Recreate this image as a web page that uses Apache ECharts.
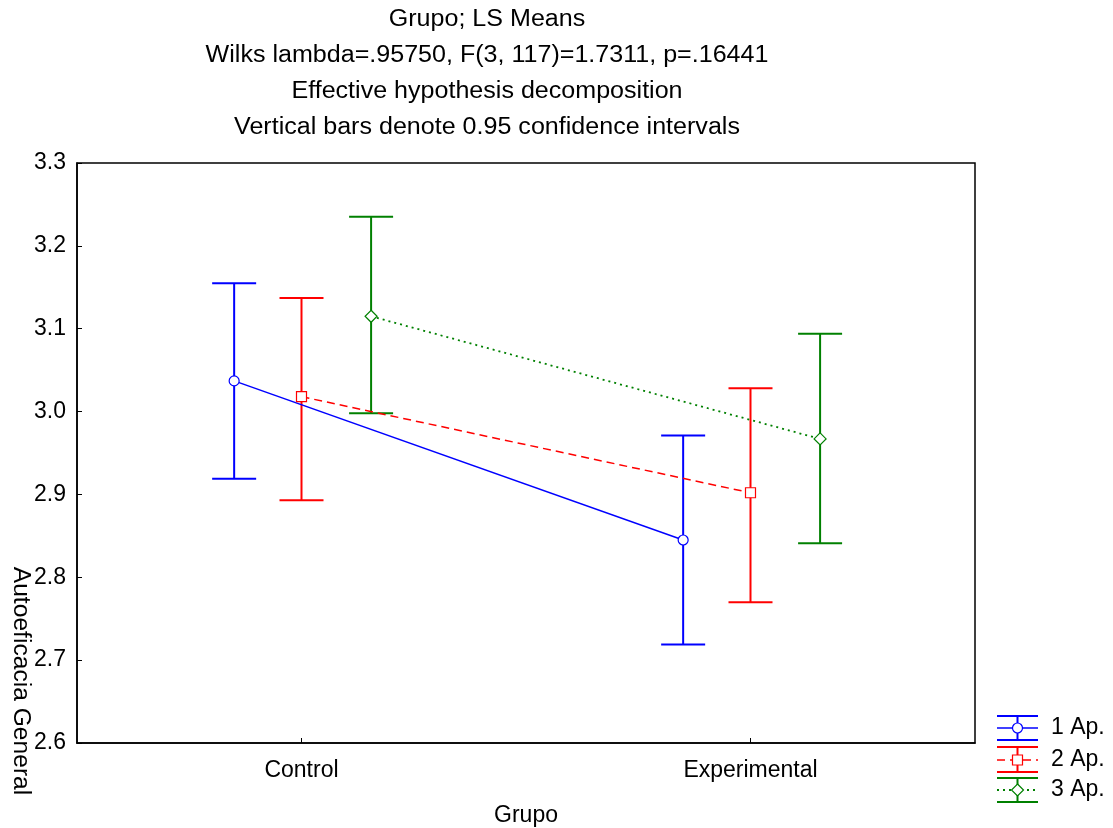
<!DOCTYPE html>
<html>
<head>
<meta charset="utf-8">
<script src="https://cdn.jsdelivr.net/npm/echarts@6/dist/echarts.min.js"></script>
<style>
html,body{margin:0;padding:0;background:#fff;}
#chart{width:1113px;height:828px;}
</style>
</head>
<body>
<div id="chart"></div>
<script>
// ---- data ----
const categories = ['Control', 'Experimental'];
const seriesNames = ['1 Ap.', '2 Ap.', '3 Ap.'];
const mean1 = [3.037, 2.845];
const low1  = [2.919, 2.719];
const high1 = [3.155, 2.971];
const mean2 = [3.018, 2.902];
const low2  = [2.893, 2.770];
const high2 = [3.137, 3.028];
const mean3 = [3.115, 2.967];
const low3  = [2.998, 2.841];
const high3 = [3.235, 3.094];
const titleLines = [
  'Grupo; LS Means',
  'Wilks lambda=.95750, F(3, 117)=1.7311, p=.16441',
  'Effective hypothesis decomposition',
  'Vertical bars denote 0.95 confidence intervals'
];
const yAxisName = 'Autoeficacia General';
const xAxisName = 'Grupo';

// ---- styling / layout ----
const FONT = '"Liberation Sans", Arial, sans-serif';
const FS = 23;
const colors = ['#0000ff', '#ff0000', '#008000'];
const offsets = [-0.15, 0, 0.155];
const symbols = ['circle', 'rect', 'diamond'];
const symbolSizes = [10, 10, 12];
const lineTypes = ['solid', [8, 5], [2, 4]];
const lineWidths = [1.5, 1.5, 1.8];
const means = [mean1, mean2, mean3];
const lows = [low1, low2, low3];
const highs = [high1, high2, high3];

const series = [];
seriesNames.forEach((name, s) => {
  const xs = categories.map((c, i) => i + 0.5 + offsets[s]);
  series.push({
    name: name + ' ci',
    type: 'custom',
    z: 2,
    data: xs.map((x, i) => [x, lows[s][i], highs[s][i]]),
    encode: { x: 0, y: [1, 2] },
    renderItem: function (params, api) {
      const x = api.value(0);
      const pLo = api.coord([x, api.value(1)]);
      const pHi = api.coord([x, api.value(2)]);
      const hw = 22;
      const st = { stroke: colors[s], lineWidth: 2, fill: null };
      return {
        type: 'group',
        children: [
          { type: 'line', shape: { x1: pLo[0], y1: pLo[1], x2: pHi[0], y2: pHi[1] }, style: st },
          { type: 'line', shape: { x1: pLo[0] - hw, y1: pLo[1], x2: pLo[0] + hw, y2: pLo[1] }, style: st },
          { type: 'line', shape: { x1: pHi[0] - hw, y1: pHi[1], x2: pHi[0] + hw, y2: pHi[1] }, style: st }
        ]
      };
    },
    silent: true
  });
  series.push({
    name: name,
    type: 'line',
    z: 5,
    data: xs.map((x, i) => [x, means[s][i]]),
    symbol: symbols[s],
    symbolSize: symbolSizes[s],
    showAllSymbol: true,
    lineStyle: { color: colors[s], width: lineWidths[s], type: lineTypes[s] },
    itemStyle: { color: '#ffffff', borderColor: colors[s], borderWidth: 1.2 },
    animation: false
  });
});

// legend graphics
const legendRows = [
  { top: 716, mid: 728, bot: 740 },
  { top: 747, mid: 760, bot: 772 },
  { top: 778, mid: 790, bot: 802 }
];
const graphics = [];
titleLines.forEach((t, i) => {
  graphics.push({
    type: 'text', x: 487, y: 20 + i * 36, scaleX: 1.09,
    style: { text: t, textAlign: 'center', textVerticalAlign: 'middle', font: FS + 'px ' + FONT, fill: '#000' }
  });
});
graphics.push({
  type: 'text', x: 20, y: 681, rotation: -Math.PI / 2, scaleX: 1.07,
  style: { text: yAxisName, textAlign: 'center', textVerticalAlign: 'middle', font: FS + 'px ' + FONT, fill: '#000' }
});
legendRows.forEach((r, s) => {
  const x0 = 997, x1 = 1038, cx = 1017.5;
  const st = { stroke: colors[s], lineWidth: 2, fill: null };
  graphics.push({ type: 'line', shape: { x1: x0, y1: r.top, x2: x1, y2: r.top }, style: st });
  graphics.push({ type: 'line', shape: { x1: x0, y1: r.bot, x2: x1, y2: r.bot }, style: st });
  graphics.push({ type: 'line', shape: { x1: cx, y1: r.top, x2: cx, y2: r.bot }, style: st });
  graphics.push({ type: 'line', shape: { x1: x0, y1: r.mid, x2: x1, y2: r.mid },
    style: { stroke: colors[s], lineWidth: lineWidths[s], lineDash: s === 0 ? null : lineTypes[s], fill: null } });
  const ms = { fill: '#fff', stroke: colors[s], lineWidth: 1.2 };
  if (s === 0) graphics.push({ type: 'circle', shape: { cx: cx, cy: r.mid, r: 5 }, style: ms, z: 10 });
  if (s === 1) graphics.push({ type: 'rect', shape: { x: cx - 5, y: r.mid - 5, width: 10, height: 10 }, style: ms, z: 10 });
  if (s === 2) graphics.push({ type: 'polygon', shape: { points: [[cx, r.mid - 6], [cx + 6, r.mid], [cx, r.mid + 6], [cx - 6, r.mid]] }, style: ms, z: 10 });
  graphics.push({ type: 'text', x: 1051, y: r.mid,
    style: { text: seriesNames[s], textAlign: 'left', textVerticalAlign: 'middle', font: FS + 'px ' + FONT, fill: '#000' } });
});

const chart = echarts.init(document.getElementById('chart'), null, { renderer: 'canvas' });
chart.setOption({
  animation: false,
  backgroundColor: '#ffffff',
  textStyle: { fontFamily: FONT },
  grid: { left: 77, right: 138, top: 163, bottom: 85, containLabel: false, outerBoundsMode: 'none',
          show: true, borderColor: '#000', borderWidth: 1.5, backgroundColor: 'transparent' },
  xAxis: {
    type: 'value', min: 0, max: 2, interval: 0.5,
    splitLine: { show: false },
    axisLine: { lineStyle: { color: '#000', width: 1.5 } },
    axisTick: { inside: true, length: 5, customValues: [0.5, 1.5], lineStyle: { color: '#000' } },
    axisLabel: { customValues: [0.5, 1.5], formatter: v => categories[Math.round(v - 0.5)] || '', fontSize: FS, color: '#000', margin: 16, fontFamily: FONT },
    name: xAxisName, nameLocation: 'middle', nameGap: 61,
    nameTextStyle: { fontSize: FS, color: '#000', fontFamily: FONT }
  },
  yAxis: {
    type: 'value', min: 2.6, max: 3.3, interval: 0.1,
    splitLine: { show: false },
    axisLine: { show: true, lineStyle: { color: '#000', width: 1.5 } },
    axisTick: { show: true, inside: true, length: 5, lineStyle: { color: '#000' } },
    axisLabel: { formatter: v => v.toFixed(1), fontSize: FS, color: '#000', margin: 11, fontFamily: FONT }
  },
  series: series,
  graphic: graphics
});
</script>
</body>
</html>
